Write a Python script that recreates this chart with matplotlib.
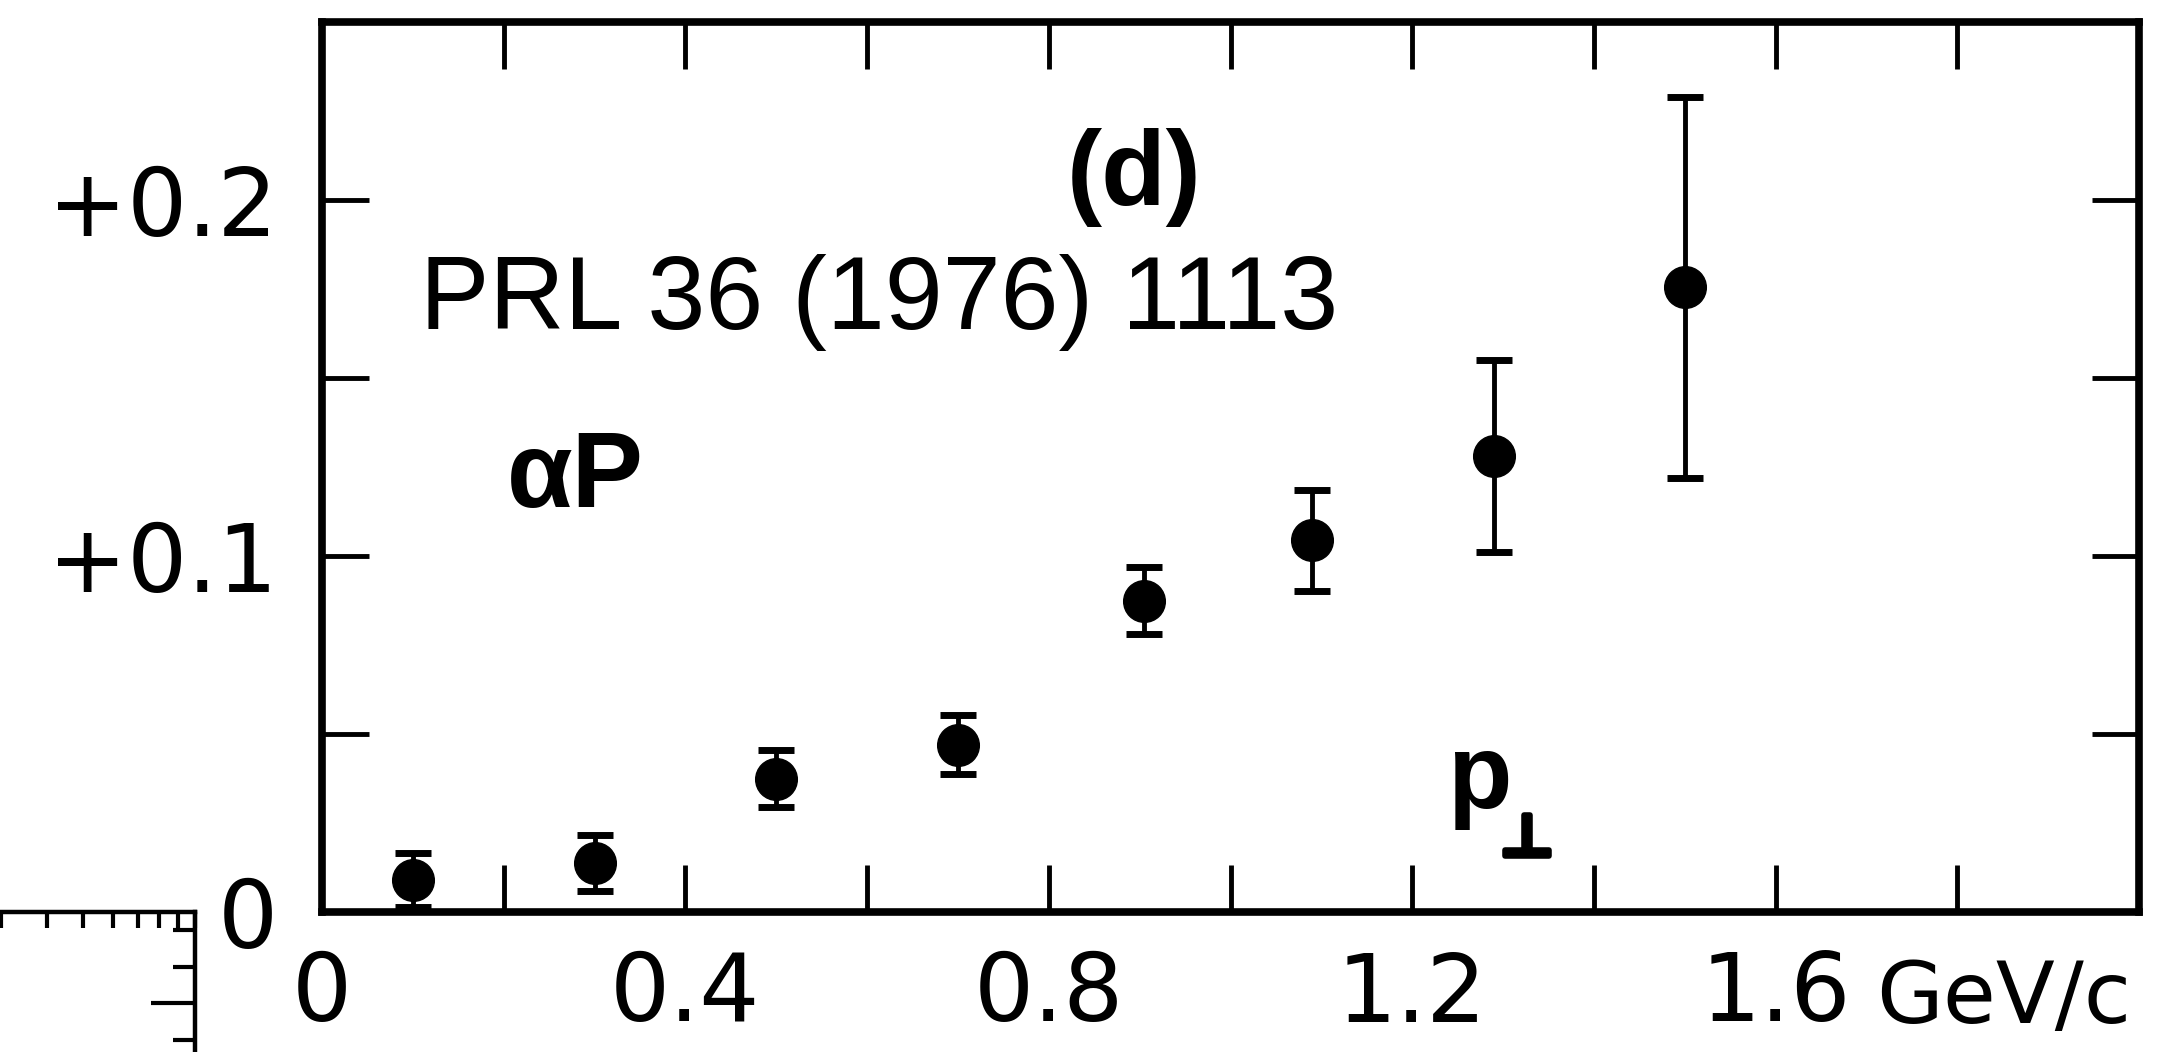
import matplotlib
matplotlib.use("Agg")
import matplotlib.pyplot as plt
import matplotlib.patheffects as pe
from matplotlib.ticker import FixedLocator, FixedFormatter, LogLocator, MultipleLocator, NullFormatter

# transverse momentum bins (GeV/c) and measured alpha*P with errors
p_perp = [0.10, 0.30, 0.50, 0.70, 0.905, 1.09, 1.29, 1.50]
alpha_p = [0.009, 0.0137, 0.0375, 0.047, 0.0875, 0.1044, 0.128, 0.1755]
alpha_p_err = [0.0075, 0.0078, 0.0079, 0.0083, 0.0093, 0.0142, 0.027, 0.0535]

x_ticks = [0.0, 0.2, 0.4, 0.6, 0.8, 1.0, 1.2, 1.4, 1.6, 1.8]
x_tick_labels = ["0", "", "0.4", "", "0.8", "", "1.2", "", "1.6", ""]
y_ticks = [0.0, 0.05, 0.10, 0.15, 0.20]
y_tick_labels = ["0", "", "+0.1", "", "+0.2"]

W, H = 2176, 1052
fig = plt.figure(figsize=(W / 100, H / 100), dpi=100)
fig.patch.set_facecolor("white")

# corner of the neighbouring panel (log x axis), bottom left
ax2 = fig.add_axes([-0.2, -0.2, 195 / W + 0.2, (1 - 912 / H) + 0.2])
w_px = 195 + 0.2 * W
h_px = (H - 912) + 0.2 * H
ax2.set_xscale("log")
ax2.set_xlim(10 ** (1 - w_px / 371), 10)
y_top = 0.5 + 91 / 365
ax2.set_ylim(y_top - h_px / 365, y_top)
for side in ["left", "bottom"]:
    ax2.spines[side].set_visible(False)
for side in ["top", "right"]:
    ax2.spines[side].set_linewidth(3.2)
ax2.xaxis.tick_top()
ax2.yaxis.tick_right()
ax2.xaxis.set_major_locator(LogLocator(base=10))
ax2.xaxis.set_minor_locator(LogLocator(base=10, subs=range(2, 10)))
ax2.yaxis.set_major_locator(MultipleLocator(0.5))
ax2.yaxis.set_minor_locator(MultipleLocator(0.1))
for axis in [ax2.xaxis, ax2.yaxis]:
    axis.set_major_formatter(NullFormatter())
    axis.set_minor_formatter(NullFormatter())
ax2.tick_params(axis="x", which="both", direction="in", length=11.5, width=3)
ax2.tick_params(axis="y", which="major", direction="in", length=32, width=3)
ax2.tick_params(axis="y", which="minor", direction="in", length=16, width=3)

# main panel
ax = fig.add_axes([322 / W, 1 - 912 / H, (2139 - 322) / W, 890 / H])
ax.errorbar(p_perp, alpha_p, yerr=alpha_p_err, fmt="o", color="black",
            ms=30, elinewidth=3.5, capsize=13, capthick=5, clip_on=False, zorder=3)

ax.set_xlim(0, 2.0)
ax.set_ylim(0, 0.25)
for side in ax.spines:
    ax.spines[side].set_linewidth(5.5)

ax.xaxis.set_major_locator(FixedLocator(x_ticks))
ax.xaxis.set_major_formatter(FixedFormatter(x_tick_labels))
ax.yaxis.set_major_locator(FixedLocator(y_ticks))
ax.yaxis.set_major_formatter(FixedFormatter(y_tick_labels))
ax.tick_params(which="major", direction="in", length=34, width=3.5,
               top=True, right=True, labelsize=68)
ax.tick_params(axis="x", pad=27)
ax.tick_params(axis="y", pad=32)

ax.text(1.991, -0.0312, "GeV/c", fontsize=62, ha="right", va="baseline",
        clip_on=False)

ax.text(0.894, 0.2062, "(d)", fontsize=76, family="Liberation Sans",
        weight="bold", ha="center", va="center")
ax.text(0.108, 0.1638, "PRL 36 (1976) 1113", fontsize=75,
        family="Liberation Sans", ha="left", va="baseline")
ax.text(0.2036, 0.1138, "αP", fontsize=77, family="Liberation Sans",
        weight="bold", ha="left", va="baseline")
ax.text(1.238, 0.0292, "p", fontsize=76, family="Liberation Sans",
        weight="bold", ha="left", va="baseline")
ax.text(1.297, 0.0157, "⊥", fontsize=42, weight="bold", ha="left", va="baseline",
        path_effects=[pe.withStroke(linewidth=4, foreground="black")])

fig.savefig("out.png", dpi=100, facecolor="white")
